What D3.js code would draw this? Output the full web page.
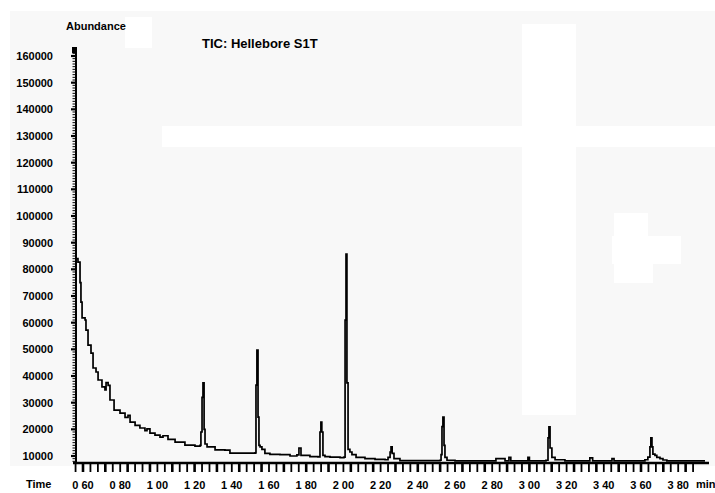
<!DOCTYPE html>
<html>
<head>
<meta charset="utf-8">
<script src="https://cdn.jsdelivr.net/npm/d3@7/dist/d3.min.js"></script>
<style>
  html, body { margin: 0; padding: 0; background: #ffffff; }
  svg { display: block; }
  text { font-family: "Liberation Sans", Arial, sans-serif; font-weight: bold; fill: #000; }
</style>
</head>
<body>
<svg id="chart" width="715" height="493"></svg>
<script>
// ---- data ----
const times = [
  0.567, 0.573, 0.584, 0.589, 0.595, 0.611, 0.616, 0.627, 0.643, 0.654, 0.670, 0.681,
  0.702, 0.718, 0.724, 0.735, 0.745, 0.767, 0.799, 0.826, 0.842, 0.853, 0.880, 0.906,
  0.933, 0.944, 0.960, 0.987, 1.014, 1.030, 1.057, 1.095, 1.148, 1.202, 1.229, 1.234,
  1.240, 1.245, 1.251, 1.256, 1.267, 1.310, 1.363, 1.390, 1.471, 1.525, 1.530, 1.535,
  1.541, 1.546, 1.552, 1.562, 1.578, 1.605, 1.659, 1.713, 1.750, 1.761, 1.772, 1.820,
  1.863, 1.874, 1.879, 1.884, 1.890, 1.901, 1.928, 1.982, 2.003, 2.009, 2.014, 2.019,
  2.025, 2.035, 2.046, 2.068, 2.116, 2.170, 2.224, 2.240, 2.251, 2.256, 2.262, 2.272,
  2.304, 2.519, 2.525, 2.530, 2.535, 2.541, 2.546, 2.557, 2.600, 2.820, 2.842, 2.869,
  2.890, 2.900, 2.992, 3.000, 3.089, 3.100, 3.105, 3.111, 3.121, 3.138, 3.191, 3.325,
  3.340, 3.444, 3.455, 3.595, 3.621, 3.637, 3.648, 3.653, 3.659, 3.664, 3.675, 3.685,
  3.702, 3.718, 3.739, 3.944
];
const abundance = [
  84000, 82700, 75000, 67700, 61800, 61000, 57200, 51600, 48600, 43000, 41500, 38500,
  35900, 34800, 37500, 36500, 31000, 27200, 26100, 24500, 25200, 22700, 21500, 20500,
  19500, 20200, 18600, 17800, 17100, 17600, 16200, 15200, 14100, 13700, 14000, 19000,
  32000, 37400, 20000, 14500, 13400, 12300, 12200, 11100, 11100, 11200, 36600, 49700,
  24600, 14000, 13400, 12500, 11000, 10600, 10500, 10000, 10400, 13000, 10200, 9800,
  9700, 19000, 22700, 19000, 10200, 9800, 9600, 9400, 9600, 61000, 85700, 37400,
  12500, 11500, 10500, 9500, 9000, 8700, 8600, 9500, 11500, 13400, 11000, 9000,
  8300, 8400, 10500, 21000, 24600, 14000, 9500, 8400, 8200, 9000, 9000, 8200,
  9500, 8200, 9500, 8200, 8400, 16800, 20900, 13000, 9500, 8600, 8200, 9300,
  8200, 9000, 8200, 8200, 8600, 9600, 13400, 16800, 13400, 10700, 10200, 9500,
  9000, 8500, 8200, 8200
];
const yTickValues = [10000, 20000, 30000, 40000, 50000, 60000, 70000, 80000,
  90000, 100000, 110000, 120000, 130000, 140000, 150000, 160000];
const xTickValues = [0.6, 0.8, 1.0, 1.2, 1.4, 1.6, 1.8, 2.0, 2.2, 2.4, 2.6, 2.8, 3.0, 3.2, 3.4, 3.6, 3.8];
const xTickLabels = ["0 60", "0 80", "1 00", "1 20", "1 40", "1 60", "1 80", "2 00", "2 20",
  "2 40", "2 60", "2 80", "3 00", "3 20", "3 40", "3 60", "3 80"];

// ---- layout ----
const svg = d3.select("#chart");
const x = d3.scaleLinear().domain([0.6, 3.8]).range([83, 678.2]);
const y = d3.scaleLinear().domain([10000, 160000]).range([456, 56]);
const axisX = 76, baseY = 463;
const xMin = x.invert(73), xMax = x.invert(708);

// background (scanned look)
svg.append("rect").attr("x", 10).attr("y", 11).attr("width", 705).attr("height", 455).attr("fill", "#f8f8f8");
const whites = [
  [125, 17, 27, 31], [162, 126, 553, 21], [522, 24, 54, 391],
  [614, 213, 34, 23], [612, 236, 69, 28], [614, 264, 39, 19]
];
svg.selectAll("rect.w").data(whites).enter().append("rect")
  .attr("class", "w")
  .attr("x", d => d[0]).attr("y", d => d[1]).attr("width", d => d[2]).attr("height", d => d[3])
  .attr("fill", "#ffffff");

// y axis line and ticks
svg.append("line").attr("x1", axisX).attr("x2", axisX).attr("y1", 47).attr("y2", baseY + 1)
  .attr("stroke", "#000").attr("stroke-width", 2);
const yMinor = d3.range(8000, 163001, 1000);
svg.selectAll("line.ym").data(yMinor).enter().append("line")
  .attr("class", "ym")
  .attr("x1", d => d % 10000 === 0 ? 71 : 72.5).attr("x2", axisX)
  .attr("y1", d => y(d)).attr("y2", d => y(d))
  .attr("stroke", "#000").attr("stroke-width", d => d % 10000 === 0 ? 2.2 : 1);
svg.append("rect").attr("x", 72).attr("y", 47).attr("width", 5).attr("height", 6).attr("fill", "#000");

svg.selectAll("text.yl").data(yTickValues).enter().append("text")
  .attr("class", "yl")
  .attr("x", 53).attr("y", d => y(d) + 4)
  .attr("text-anchor", "end").attr("font-size", 11)
  .text(d => d);

// x axis line and ticks
svg.append("line").attr("x1", 73).attr("x2", 709).attr("y1", baseY).attr("y2", baseY)
  .attr("stroke", "#000").attr("stroke-width", 2.4);
const xMinor = d3.range(0, 84).map(i => 0.56 + i * 0.04).filter(t => t <= xMax);
svg.selectAll("line.xm").data(xMinor).enter().append("line")
  .attr("class", "xm")
  .attr("x1", d => x(d)).attr("x2", d => x(d))
  .attr("y1", baseY).attr("y2", baseY + 9)
  .attr("stroke", "#000").attr("stroke-width", (d, i) => (i % 3 === 1 ? 2.6 : 1.8));

svg.selectAll("text.xl").data(xTickValues).enter().append("text")
  .attr("class", "xl")
  .attr("x", d => x(d)).attr("y", 489)
  .attr("text-anchor", "middle").attr("font-size", 11)
  .text((d, i) => xTickLabels[i]);

// labels
svg.append("text").attr("x", 26).attr("y", 488).attr("font-size", 11).text("Time");
svg.append("text").attr("x", 696).attr("y", 488).attr("font-size", 11).text("min");
svg.append("text").attr("x", 66).attr("y", 30).attr("font-size", 11).text("Abundance");
svg.append("text").attr("x", 202).attr("y", 48).attr("font-size", 13).text("TIC: Hellebore S1T");

// trace
const pts = times.map((t, i) => [t, abundance[i]]);
const line = d3.line()
  .x(d => x(d[0]))
  .y(d => y(d[1]))
  .curve(d3.curveStepAfter);
svg.append("path").datum(pts)
  .attr("d", line)
  .attr("fill", "none").attr("stroke", "#000").attr("stroke-width", 1.7);
</script>
</body>
</html>
